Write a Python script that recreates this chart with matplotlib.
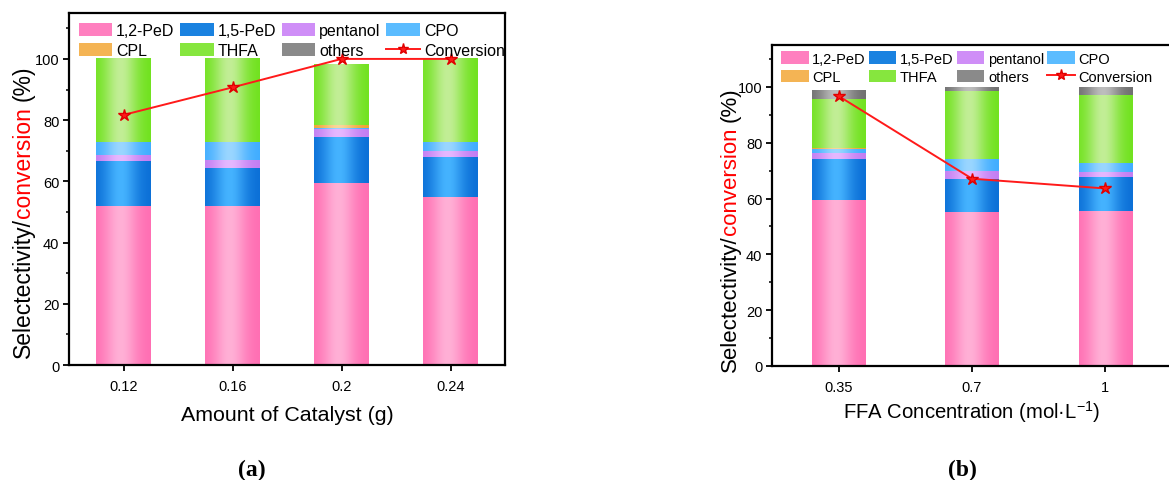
import numpy as np
import matplotlib
matplotlib.use("Agg")
import matplotlib.pyplot as plt
from matplotlib.patches import Patch
from matplotlib.lines import Line2D
from matplotlib.ticker import MultipleLocator
import matplotlib.colors as mcolors

plt.rcParams['font.family'] = ['Liberation Sans', 'DejaVu Sans']
plt.rcParams['mathtext.fontset'] = 'custom'
plt.rcParams['mathtext.rm'] = 'Liberation Sans'
plt.rcParams['mathtext.default'] = 'regular'

# ---------------- data ----------------
series_names = ['1,2-PeD', '1,5-PeD', 'pentanol', 'CPO', 'CPL', 'THFA', 'others']

a_categories = ['0.12', '0.16', '0.2', '0.24']
a_pe12 = [52.0, 52.0, 59.6, 54.8]
a_pe15 = [14.5, 12.3, 15.0, 13.3]
a_pentanol = [2.1, 2.7, 2.4, 1.9]
a_cpo = [4.2, 5.8, 0.5, 2.8]
a_cpl = [0.0, 0.0, 0.8, 0.0]
a_thfa = [27.2, 27.2, 19.8, 27.2]
a_others = [0.0, 0.0, 0.0, 0.0]
a_conversion = [81.7, 90.7, 100.0, 100.0]

b_categories = ['0.35', '0.7', '1']
b_pe12 = [59.3, 55.1, 55.5]
b_pe15 = [15.0, 11.9, 12.1]
b_pentanol = [1.9, 2.8, 1.8]
b_cpo = [1.4, 4.4, 3.3]
b_cpl = [0.5, 0.0, 0.0]
b_thfa = [17.7, 24.4, 24.4]
b_others = [2.9, 1.3, 2.8]
b_conversion = [96.7, 67.1, 63.6]

# (dark, light, legend) colours for the gradient fills
palette = {
    '1,2-PeD': ('#ff6db2', '#ffb0d6', '#ff7fbf'),
    '1,5-PeD': ('#0a6ed6', '#45b3ff', '#1a82e0'),
    'pentanol': ('#c27cf2', '#e6b8ff', '#cf8ef7'),
    'CPO': ('#3eacff', '#9ad6ff', '#5bbcff'),
    'CPL': ('#f0a030', '#fad69a', '#f4b454'),
    'THFA': ('#6fe21c', '#c2ee96', '#86e63e'),
    'others': ('#6e6e6e', '#bdbdbd', '#8a8a8a'),
}

W, H = 1169, 481
fig = plt.figure(figsize=(W / 100, H / 100), dpi=100)


def px_axes(left, top, right, bottom):
    return fig.add_axes([left / W, 1 - bottom / H, (right - left) / W, (bottom - top) / H])


def grad_fill(ax, patch, dark, light):
    h = patch.get_height()
    if h <= 0:
        patch.set_visible(False)
        return
    x0, w, y0 = patch.get_x(), patch.get_width(), patch.get_y()
    u = np.linspace(0, 1, 128)
    f = np.exp(-((u - 0.45) / 0.30) ** 2)
    d = np.array(mcolors.to_rgb(dark))
    l = np.array(mcolors.to_rgb(light))
    img = (d[None, :] * (1 - f[:, None]) + l[None, :] * f[:, None])[None, :, :]
    ax.imshow(img, extent=[x0, x0 + w, y0, y0 + h], aspect='auto',
              interpolation='bilinear', zorder=2)
    patch.set_visible(False)


def draw_panel(ax, cats, stacks, conversion, width, legend_fs, leg_anchor,
               spine_right=True, colsp=0.35, hlen=2.1):
    x = np.arange(len(cats))
    bottom = np.zeros(len(cats))
    for name, vals in zip(series_names, stacks):
        vals = np.array(vals, dtype=float)
        bars = ax.bar(x, vals, width, bottom=bottom, color=palette[name][2], linewidth=0, zorder=2)
        for p in bars:
            grad_fill(ax, p, palette[name][0], palette[name][1])
        bottom += vals
    ax.plot(x, conversion, color='#ff1a1a', lw=1.4, marker='*', ms=9,
            markerfacecolor='#ff1a1a', markeredgecolor='#e00000', zorder=4)
    ax.set_xlim(-0.5, len(cats) - 0.5)
    ax.set_ylim(0, 115)
    ax.set_xticks(x)
    ax.set_xticklabels(cats)
    ax.yaxis.set_minor_locator(MultipleLocator(10))
    ax.set_yticks([0, 20, 40, 60, 80, 100])
    ax.tick_params(axis='both', which='major', direction='out', length=4, width=1.3,
                   labelsize=10.5, pad=3, colors='black')
    ax.tick_params(axis='y', which='minor', direction='out', length=2.5, width=1.1)
    ax.tick_params(axis='x', pad=6)
    for s in ax.spines.values():
        s.set_linewidth(1.6)
    ax.spines['right'].set_visible(spine_right)

    handles = {n: Patch(facecolor=palette[n][2], edgecolor='none') for n in series_names}
    conv_h = Line2D([], [], color='#ff1a1a', lw=1.4, marker='*', ms=8,
                    markerfacecolor='#ff1a1a', markeredgecolor='#e00000')
    order = [('1,2-PeD', handles['1,2-PeD']), ('CPL', handles['CPL']),
             ('1,5-PeD', handles['1,5-PeD']), ('THFA', handles['THFA']),
             ('pentanol', handles['pentanol']), ('others', handles['others']),
             ('CPO', handles['CPO']), ('Conversion', conv_h)]
    ax.legend([h for _, h in order], [n for n, _ in order], ncol=4, frameon=False,
              loc='upper left', bbox_to_anchor=leg_anchor, borderaxespad=0, borderpad=0,
              fontsize=legend_fs, handlelength=hlen, handleheight=0.9, handletextpad=0.25,
              columnspacing=colsp, labelspacing=0.3)


def color_ylabel(x_px, y_px, fs):
    renderer = fig.canvas.get_renderer()
    y = y_px
    parts = [('Selectectivity/', 'black'), ('conversion', '#ff0000'), ('(%)', 'black')]
    for i, (txt, col) in enumerate(parts):
        if i == 2:
            y -= fs * 100 / 72 * 0.28
        t = fig.text(x_px / W, 1 - y / H, txt, rotation=90, rotation_mode='anchor',
                     ha='left', va='baseline', color=col, fontsize=fs)
        bb = t.get_window_extent(renderer)
        y -= bb.height


# ---------------- panel (a) ----------------
ax_a = px_axes(69, 14, 505, 366)
draw_panel(ax_a, a_categories,
           [a_pe12, a_pe15, a_pentanol, a_cpo, a_cpl, a_thfa, a_others],
           a_conversion, 0.5, 11.5, (0.022, 0.972))

# ---------------- panel (b) ----------------
ax_b = px_axes(772, 46, 1172, 367)
draw_panel(ax_b, b_categories,
           [b_pe12, b_pe15, b_pentanol, b_cpo, b_cpl, b_thfa, b_others],
           b_conversion, 0.4, 10.5, (0.022, 0.98), spine_right=False,
           colsp=0.2, hlen=1.9)

fig.canvas.draw()
color_ylabel(30, 358, 16.5)
color_ylabel(736, 372, 16)

fig.text(287 / W, 1 - 421 / H, 'Amount of Catalyst (g)', ha='center', va='baseline', fontsize=15.4)
fig.text(972 / W, 1 - 419 / H, 'FFA Concentration (mol·L$^{-1}$)', ha='center', va='baseline', fontsize=14.6)

fig.text(252 / W, 1 - 470 / H, '(a)', ha='center', va='center', fontsize=17,
         fontweight='bold', family=['Liberation Serif', 'DejaVu Serif'])
fig.text(962 / W, 1 - 470 / H, '(b)', ha='center', va='center', fontsize=17,
         fontweight='bold', family=['Liberation Serif', 'DejaVu Serif'])

fig.savefig('out.png', dpi=100)
